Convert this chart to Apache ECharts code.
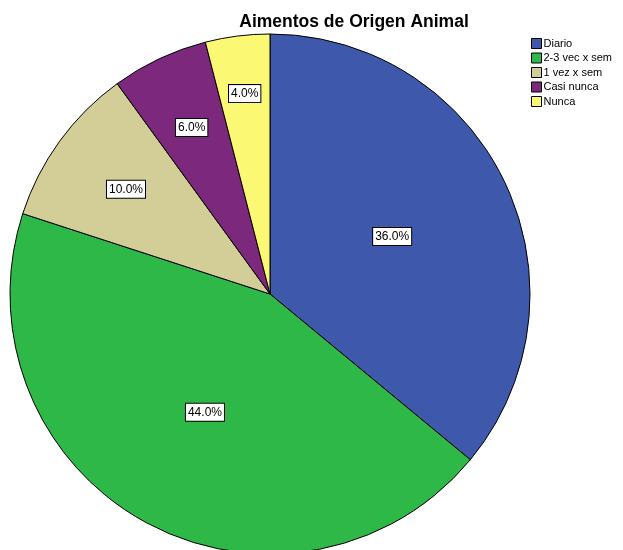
<!DOCTYPE html>
<html><head><meta charset="utf-8">
<script src="https://cdn.jsdelivr.net/npm/echarts@6/dist/echarts.min.js"></script>
<style>html,body{margin:0;padding:0;background:#fff}#c{width:623px;height:550px}</style>
</head><body><div id="c"></div>
<script>
const categories = ["Diario", "2-3 vec x sem", "1 vez x sem", "Casi nunca", "Nunca"];
const values = [36.0, 44.0, 10.0, 6.0, 4.0];
const colors = ["#3E58AC", "#2EB848", "#D3CE97", "#7C287D", "#FBF873"];
// label distance from centre (px), as placed in the reference
const labelRadius = [135, 135, 178, 184, 202];

const CX = 270, CY = 294, R = 260;
const total = values.reduce((a, b) => a + b, 0);
const midAngles = [];
{ let acc = 0; values.forEach(v => { midAngles.push((acc + v / 2) / total * 2 * Math.PI); acc += v; }); }

const chart = echarts.init(document.getElementById('c'), null, {renderer: 'canvas'});
chart.setOption({
  animation: false,
  backgroundColor: '#fff',
  title: {
    text: 'Aimentos de Origen Animal',
    left: 354, top: 13, textAlign: 'center', padding: 0,
    textStyle: {fontFamily: 'Liberation Sans, Arial, sans-serif', fontSize: 17.5, fontWeight: 'bold', color: '#000'}
  },
  legend: {
    orient: 'vertical', left: 531, top: 38, padding: 0,
    icon: 'rect', itemWidth: 10, itemHeight: 10, itemGap: 3.5,
    textStyle: {fontFamily: 'Liberation Sans, Arial, sans-serif', fontSize: 11, color: '#000', padding: [0,0,0,-3]},
    itemStyle: {borderColor: '#000', borderWidth: 1},
    data: categories
  },
  series: [{
    type: 'pie',
    center: [CX, CY],
    radius: [0, R],
    startAngle: 90,
    clockwise: true,
    data: categories.map((c, i) => ({name: c, value: values[i], itemStyle: {color: colors[i]}})),
    itemStyle: {borderColor: '#000', borderWidth: 1},
    label: {
      show: true, position: 'inside',
      formatter: p => p.value.toFixed(1) + '%',
      fontFamily: 'Liberation Sans, Arial, sans-serif', fontSize: 12, color: '#000',
      backgroundColor: '#fff', borderColor: '#000', borderWidth: 1, padding: [3, 2, 2, 2]
    },
    labelLayout: function (p) {
      const a = midAngles[p.dataIndex], r = labelRadius[p.dataIndex];
      return {x: CX + r * Math.sin(a), y: CY - r * Math.cos(a), align: 'center', verticalAlign: 'middle'};
    },
    labelLine: {show: false},
    emphasis: {disabled: true}
  }]
});
</script></body></html>
